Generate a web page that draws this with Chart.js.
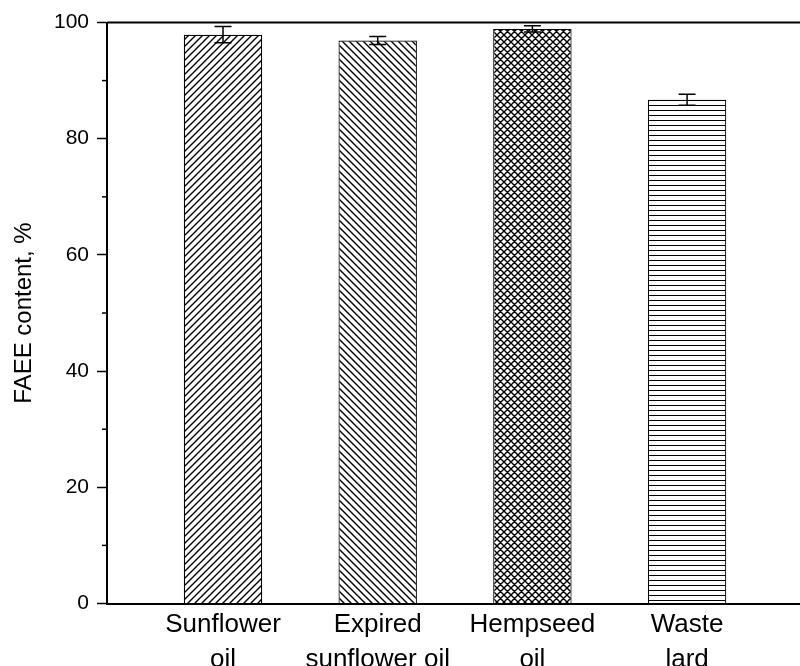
<!DOCTYPE html>
<html>
<head>
<meta charset="utf-8">
<script src="https://cdn.jsdelivr.net/npm/chart.js@4.4.1/dist/chart.umd.min.js"></script>
<style>
  html, body { margin: 0; padding: 0; background: #fff; overflow: hidden; }
  #wrap { width: 800px; height: 666px; position: relative; }
</style>
</head>
<body>
<div id="wrap"><canvas id="faeeChart"></canvas></div>
<script>
// values
const oils = [['Sunflower', 'oil'], ['Expired', 'sunflower oil'], ['Hempseed', 'oil'], ['Waste', 'lard']];
const oilPos = [1, 2, 3, 4];
const faee = [97.9, 96.9, 98.9, 86.7];
const faeeErr = [1.4, 0.7, 0.55, 0.95];
const yMinorTicks = [10, 30, 50, 70, 90];
const hatches = ['fwd', 'back', 'cross', 'horiz'];

// hatch fills
function makePattern(kind) {
    const c = document.createElement('canvas');
    const s = kind === 'horiz' ? 5 : 7;
    c.width = s; c.height = s;
    const g = c.getContext('2d');
    g.fillStyle = '#fff';
    g.fillRect(0, 0, s, s);
    g.strokeStyle = '#000';
    g.lineWidth = kind === 'horiz' ? 1 : 1.4;
    g.beginPath();
    if (kind === 'fwd' || kind === 'cross') {
        g.moveTo(-1, s + 1); g.lineTo(s + 1, -1);
        g.moveTo(-1, 1); g.lineTo(1, -1);
        g.moveTo(s - 1, s + 1); g.lineTo(s + 1, s - 1);
    }
    if (kind === 'back' || kind === 'cross') {
        g.moveTo(-1, -1); g.lineTo(s + 1, s + 1);
        g.moveTo(s - 1, -1); g.lineTo(s + 1, 1);
        g.moveTo(-1, s - 1); g.lineTo(1, s + 1);
    }
    if (kind === 'horiz') {
        g.moveTo(0, 0.5); g.lineTo(s, 0.5);
    }
    g.stroke();
    return g.createPattern(c, 'repeat');
}

// error bars, minor ticks and top frame line
const extras = {
    id: 'extras',
    afterDatasetsDraw(chart) {
        const ctx = chart.ctx;
        const xs = chart.scales.x, ys = chart.scales.y;
        ctx.save();
        ctx.strokeStyle = '#000';
        ctx.lineWidth = 1.5;
        oilPos.forEach((p, i) => {
            const x = xs.getPixelForValue(p);
            const yt = ys.getPixelForValue(faee[i] + faeeErr[i]);
            const yb = ys.getPixelForValue(faee[i] - faeeErr[i]);
            ctx.beginPath();
            ctx.moveTo(x, yt); ctx.lineTo(x, yb);
            ctx.moveTo(x - 8.5, yt); ctx.lineTo(x + 8.5, yt);
            ctx.moveTo(x - 8.5, yb); ctx.lineTo(x + 8.5, yb);
            ctx.stroke();
        });
        ctx.restore();
    },
    afterDraw(chart) {
        const ctx = chart.ctx;
        const a = chart.chartArea, ys = chart.scales.y;
        ctx.save();
        ctx.strokeStyle = '#000';
        ctx.lineWidth = 2;
        ctx.beginPath();
        ctx.moveTo(a.left, a.top); ctx.lineTo(a.right, a.top);
        ctx.stroke();
        ctx.lineWidth = 1.5;
        yMinorTicks.forEach(v => {
            const y = ys.getPixelForValue(v);
            ctx.beginPath();
            ctx.moveTo(a.left - 5, y); ctx.lineTo(a.left, y);
            ctx.stroke();
        });
        ctx.restore();
    }
};

Chart.defaults.font.family = '"Liberation Sans", Arial, sans-serif';
Chart.defaults.color = '#000';

new Chart(document.getElementById('faeeChart'), {
    type: 'bar',
    data: {
        datasets: [{
            data: oilPos.map((p, i) => ({ x: p, y: faee[i] })),
            backgroundColor: hatches.map(makePattern),
            borderColor: '#000',
            borderWidth: 1.2,
            barPercentage: 0.507,
            categoryPercentage: 1
        }]
    },
    options: {
        responsive: true,
        maintainAspectRatio: false,
        animation: false,
        layout: { padding: { top: 22.5, right: 0, left: 0, bottom: 0 } },
        plugins: { legend: { display: false }, tooltip: { enabled: false } },
        scales: {
            x: {
                type: 'linear',
                offset: false,
                min: 0.25,
                max: 4.73,
                afterBuildTicks: scale => { scale.ticks = oilPos.map(v => ({ value: v })); },
                afterFit: scale => { scale.height = 62.5; },
                ticks: {
                    autoSkip: false,
                    maxRotation: 0,
                    padding: 4,
                    font: { size: 26, lineHeight: 1.35 },
                    callback: v => oils[oilPos.indexOf(v)] || ''
                },
                grid: { display: false, drawTicks: false },
                border: { display: true, color: '#000', width: 2 }
            },
            y: {
                min: 0,
                max: 100,
                afterFit: scale => { scale.width = 107; },
                ticks: { stepSize: 20, padding: 8, font: { size: 21 } },
                grid: { drawOnChartArea: false, tickLength: 10, tickWidth: 1.5, tickColor: '#000' },
                border: { display: true, color: '#000', width: 2 },
                title: { display: true, text: 'FAEE content, %', font: { size: 24 }, padding: { top: 10, bottom: 0 } }
            }
        }
    },
    plugins: [extras]
});
</script>
</body>
</html>
